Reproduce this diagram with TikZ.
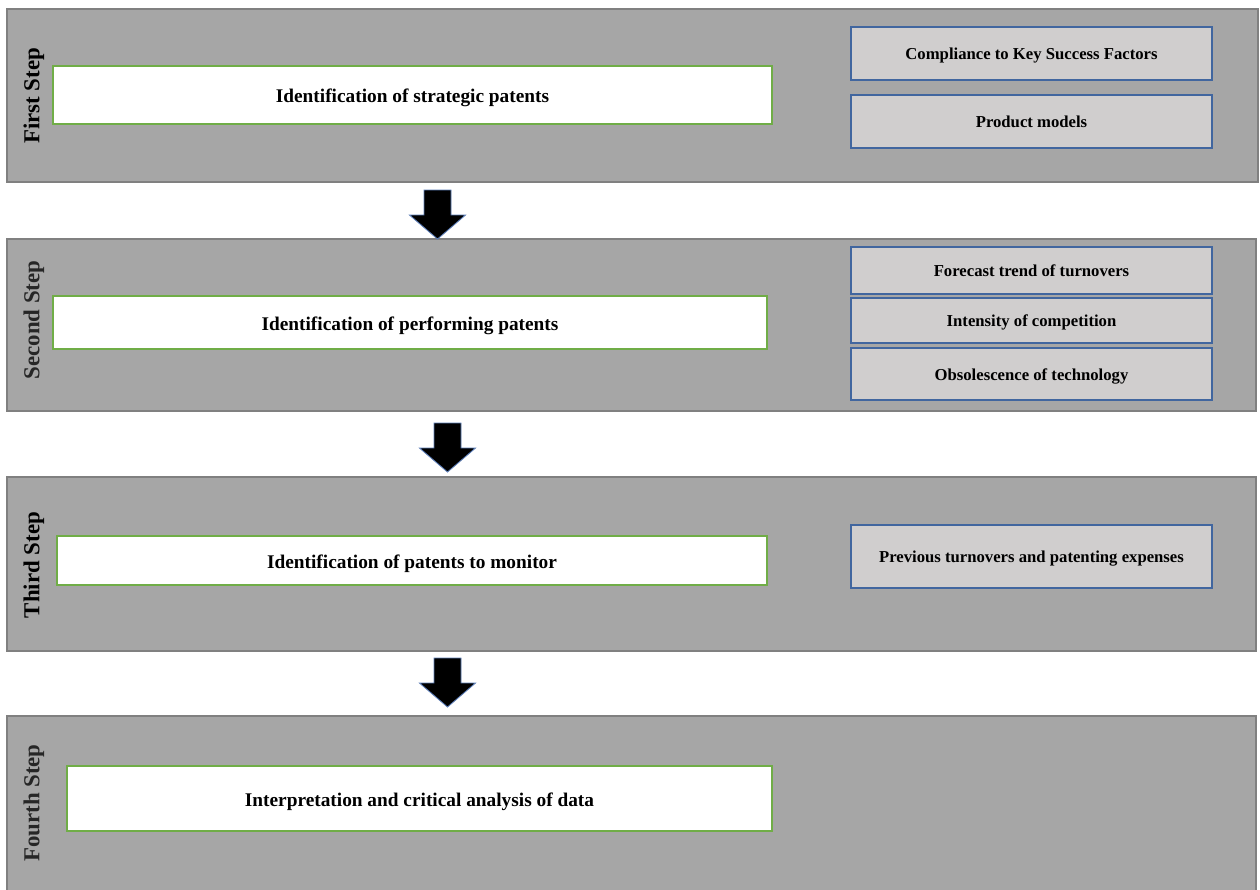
\documentclass[tikz,border=0pt]{standalone}
\usepackage{fontspec}
\setmainfont{Liberation Serif}
\definecolor{panelgray}{HTML}{A6A6A6}
\definecolor{paneledge}{HTML}{808080}
\definecolor{boxgreen}{HTML}{70AD47}
\definecolor{factorfill}{HTML}{D0CECE}
\definecolor{factoredge}{HTML}{41669F}
\definecolor{arrowedge}{HTML}{5B7DB8}
\begin{document}
\begin{tikzpicture}[x=0.02cm,y=-0.02cm,
  panel/.style={fill=panelgray,draw=paneledge,line width=0.7pt},
  stepbox/.style={draw=boxgreen,fill=white,line width=0.7pt,inner sep=0pt,
    text height=9.1pt,text depth=0pt,font=\fontsize{11}{13}\selectfont\bfseries},
  factor/.style={draw=factoredge,fill=factorfill,line width=0.8pt,inner sep=0pt,
    minimum width=7.22cm,text height=7.2pt,text depth=0pt,
    font=\fontsize{9.5}{11}\selectfont\bfseries},
  steplabel/.style={rotate=90,font=\fontsize{13}{15}\selectfont\bfseries}]
  \useasboundingbox (0,0) rectangle (1260,889);
  \fill[white] (0,0) rectangle (1260,889);
  % the four steps
  \draw[panel] (7,9) rectangle (1258,182);
  \draw[panel] (7,239) rectangle (1256,411);
  \draw[panel] (7,477) rectangle (1256,651);
  \draw[panel] (7,716) rectangle (1256,895);
  \node[steplabel] (first) at (34,96) {First Step};
  \node[steplabel,text=black!85] (second) at (34,320) {Second Step};
  \node[steplabel] (third) at (34,565) {Third Step};
  \node[steplabel,text=black!85] (fourth) at (34,803) {Fourth Step};
  % main boxes
  \node[stepbox,minimum width=14.38cm,minimum height=1.16cm] (strategic) at (412.5,95) {Identification of strategic patents};
  \node[stepbox,minimum width=14.28cm,minimum height=1.06cm] (performing) at (410,322.5) {Identification of performing patents};
  \node[stepbox,minimum width=14.2cm,minimum height=0.98cm] (monitor) at (412,560.5) {Identification of patents to monitor};
  \node[stepbox,minimum width=14.1cm,minimum height=1.3cm] (analysis) at (419.5,798.5) {Interpretation and critical analysis of data};
  % factors
  \node[factor,minimum height=1.06cm] (ksf) at (1031.5,53.5) {Compliance to Key Success Factors};
  \node[factor,minimum height=1.06cm] (models) at (1031.5,121.5) {Product models};
  \node[factor,minimum height=0.94cm] (forecast) at (1031.5,270.5) {Forecast trend of turnovers};
  \node[factor,minimum height=0.9cm] (competition) at (1031.5,320.5) {Intensity of competition};
  \node[factor,minimum height=1.04cm] (obsolescence) at (1031.5,374) {Obsolescence of technology};
  \node[factor,minimum height=1.26cm] (expenses) at (1031.5,556.5) {Previous turnovers and patenting expenses};
  % block arrows
  \foreach \cx/\ty in {437.5/190,447.5/423,447.5/658}
    \filldraw[fill=black,draw=arrowedge,line width=0.5pt]
      (\cx-13.5,\ty) -- (\cx+13.5,\ty) -- (\cx+13.5,\ty+25) -- (\cx+28,\ty+25)
      -- (\cx,\ty+49) -- (\cx-28,\ty+25) -- (\cx-13.5,\ty+25) -- cycle;
\end{tikzpicture}
\end{document}
